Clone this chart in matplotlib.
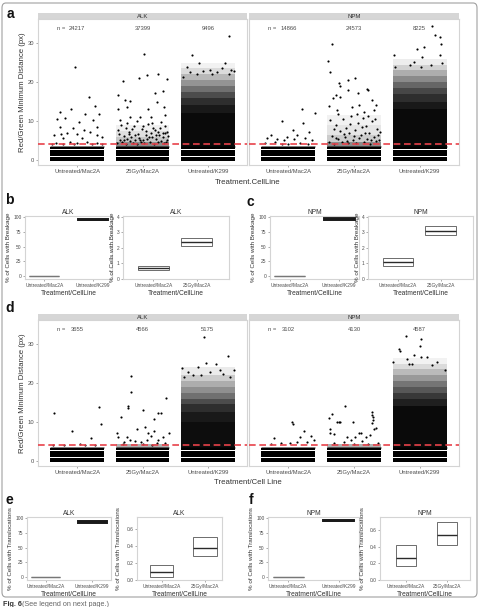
import matplotlib
matplotlib.use('Agg')
import matplotlib.pyplot as plt
from matplotlib.patches import FancyBboxPatch

plt.rcParams['font.family'] = ['Liberation Sans', 'DejaVu Sans']

# ---------------- data ----------------
categories = ['Untreated/Mac2A', '25Gy/Mac2A', 'Untreated/K299']
box_categories_left = ['Untreated/Mac2A', 'Untreated/K299']
box_categories_right = ['Untreated/Mac2A', '25Gy/Mac2A']

n_a_alk = [24217, 37399, 9496]
n_a_npm = [14866, 24573, 8225]
n_d_alk = [3655, 4566, 5175]
n_d_npm = [3102, 4130, 4587]

threshold = 4.0
# solid bands formed by the many jittered points at small discrete distances
core_bands = [(-0.25, 0.66), (0.9, 1.66), (1.9, 2.5), (2.74, 3.3)]
core_top_levels = [3.45, 3.61]

# density of the dense clouds: (from, to, density)
cloud_a_alk = [(3.3, 12, 0.96), (12, 14, 0.9), (14, 16, 0.82), (16, 17.5, 0.7), (17.5, 19, 0.56),
               (19, 20.5, 0.42), (20.5, 22, 0.28), (22, 23.5, 0.14), (23.5, 25, 0.05)]
cloud_a_npm = [(3.3, 13, 0.96), (13, 15, 0.9), (15, 17, 0.82), (17, 18.5, 0.72), (18.5, 20, 0.6),
               (20, 21.5, 0.46), (21.5, 23, 0.32), (23, 24.5, 0.18), (24.5, 26, 0.07)]
cloud_d_alk = [(3.3, 10, 0.95), (10, 12.5, 0.9), (12.5, 14.5, 0.82), (14.5, 16, 0.7), (16, 17.5, 0.56),
               (17.5, 19, 0.44), (19, 20.5, 0.32), (20.5, 22, 0.2), (22, 24, 0.08)]
cloud_d_npm = [(3.3, 14, 0.96), (14, 16, 0.88), (16, 17.5, 0.78), (17.5, 19, 0.66), (19, 20.5, 0.54),
               (20.5, 22, 0.4), (22, 23.5, 0.27), (23.5, 25, 0.14), (25, 26.5, 0.05)]
cloud_a_alk_gy = [(3.3, 4.6, 0.45), (4.6, 6, 0.22), (6, 7.5, 0.12), (7.5, 9, 0.06)]
cloud_a_npm_gy = [(3.3, 4.6, 0.45), (4.6, 6.5, 0.2), (6.5, 9, 0.1), (9, 11.5, 0.05)]
cloud_d_gy = [(3.3, 4.4, 0.3)]

# outlying points: (offset within group, distance)
pts_a_alk_mac = [(-0.04, 23.8), (0.18, 16.1), (-0.09, 13.1), (0.28, 13.9), (-0.26, 12.2), (-0.31, 10.4),
                 (-0.18, 10.7), (0.12, 11.8), (0.34, 11.8), (0.24, 10.3), (0.03, 9.7), (-0.07, 8.1),
                 (-0.27, 8.5), (-0.25, 6.7), (-0.36, 6.4), (-0.16, 7.0), (0.10, 7.7), (0.20, 7.1),
                 (0.30, 8.4), (0.38, 5.8), (0.31, 6.4), (0.0, 6.7), (-0.22, 5.6), (0.07, 5.6),
                 (-0.33, 4.4), (-0.11, 4.7), (0.15, 4.5), (0.30, 4.4), (-0.21, 4.2), (0.0, 4.3),
                 (0.38, 4.2), (-0.38, 4.1), (0.22, 4.1), (-0.05, 4.05)]
pts_a_alk_gy = [(0.03, 27.1), (0.07, 21.8), (-0.05, 21.1), (0.24, 22.1), (0.38, 20.8), (-0.30, 20.3),
                (0.31, 17.7), (-0.38, 16.6), (0.19, 17.1), (-0.27, 15.4), (-0.19, 15.2), (-0.37, 13.1),
                (-0.24, 13.7), (0.22, 14.8), (0.33, 13.7), (0.35, 11.5), (0.09, 13.1), (0.13, 11.1),
                (-0.04, 11.1), (-0.35, 10.3), (-0.19, 11.1),
                (-0.39, 4.3), (-0.35, 5.1), (-0.31, 4.6), (-0.28, 6.2), (-0.26, 4.1), (-0.24, 5.4),
                (-0.21, 7.3), (-0.19, 4.8), (-0.17, 6.0), (-0.15, 4.4), (-0.13, 8.6), (-0.11, 5.2),
                (-0.09, 4.2), (-0.07, 6.7), (-0.05, 5.7), (-0.03, 4.6), (-0.01, 7.9), (0.01, 5.0),
                (0.03, 4.3), (0.05, 6.4), (0.07, 5.5), (0.09, 9.2), (0.11, 4.7), (0.13, 6.9),
                (0.15, 5.9), (0.17, 4.2), (0.19, 7.6), (0.21, 5.3), (0.23, 4.5), (0.25, 6.5),
                (0.27, 8.1), (0.29, 4.9), (0.31, 5.8), (0.33, 4.3), (0.35, 7.0), (0.37, 5.1),
                (0.39, 6.1), (-0.37, 7.7), (-0.33, 8.9), (-0.29, 5.0), (-0.23, 9.6), (-0.16, 7.9),
                (-0.08, 9.9), (0.0, 8.8), (0.06, 7.4), (0.14, 9.5), (0.2, 6.3), (0.28, 9.8),
                (0.34, 8.8), (0.38, 7.3), (-0.36, 6.6), (-0.2, 6.6), (-0.04, 5.2), (0.1, 6.0),
                (0.24, 7.2), (0.32, 6.9), (-0.12, 6.3), (0.16, 8.3), (-0.26, 8.2), (0.36, 4.7)]
pts_a_alk_k299 = [(0.33, 31.9), (-0.24, 26.9), (-0.14, 25.0), (0.26, 25.0), (0.40, 22.9), (-0.32, 23.8),
                  (0.04, 23.1), (0.14, 22.5), (0.32, 22.1), (-0.38, 21.4), (-0.07, 22.8), (0.21, 23.5),
                  (-0.17, 22.0), (0.07, 22.0), (0.36, 23.0), (-0.28, 22.6)]
pts_a_npm_mac = [(0.40, 12.0), (0.20, 13.1), (0.22, 9.4), (-0.10, 10.0), (0.32, 7.1), (0.07, 7.7),
                 (-0.27, 6.3), (-0.33, 5.6), (0.13, 6.4), (-0.02, 6.0), (-0.17, 5.3), (0.26, 5.6),
                 (-0.07, 5.0), (0.36, 5.1), (0.08, 5.3), (-0.36, 4.3), (-0.2, 4.5), (0.0, 4.2),
                 (0.18, 4.4), (0.3, 4.2), (-0.1, 4.1)]
pts_a_npm_gy = [(-0.34, 29.9), (-0.39, 25.5), (-0.37, 22.7), (0.02, 21.0), (-0.09, 20.5), (-0.23, 19.8),
                (-0.21, 19.0), (0.20, 18.3), (0.22, 17.9), (-0.09, 17.9), (-0.27, 16.8), (0.06, 17.1),
                (-0.32, 15.8), (-0.21, 16.1), (0.07, 14.1), (0.34, 14.1), (0.28, 15.4), (-0.38, 13.9),
                (-0.03, 13.5), (0.30, 12.8), (0.15, 12.4), (-0.26, 12.8),
                (-0.38, 4.5), (-0.34, 6.2), (-0.30, 4.2), (-0.27, 9.1), (-0.25, 5.3), (-0.22, 7.4),
                (-0.19, 4.7), (-0.17, 10.6), (-0.14, 5.9), (-0.12, 8.2), (-0.09, 4.4), (-0.07, 6.8),
                (-0.04, 11.3), (-0.02, 5.1), (0.01, 7.7), (0.03, 4.3), (0.06, 9.6), (0.08, 5.6),
                (0.10, 6.4), (0.13, 10.9), (0.15, 4.6), (0.18, 8.7), (0.20, 5.4), (0.23, 7.0),
                (0.25, 4.2), (0.28, 9.9), (0.30, 6.0), (0.33, 4.8), (0.35, 8.0), (0.38, 5.2),
                (-0.36, 10.2), (-0.31, 8.0), (-0.24, 11.8), (-0.16, 6.6), (-0.06, 9.3), (0.04, 11.9),
                (0.12, 8.5), (0.22, 11.2), (0.32, 10.4), (0.39, 7.2), (-0.28, 5.6), (0.0, 6.1),
                (0.17, 6.9), (0.36, 6.3), (-0.11, 4.9), (0.26, 5.0)]
pts_a_npm_k299 = [(0.19, 34.4), (0.23, 32.1), (0.31, 31.5), (-0.04, 28.4), (0.07, 29.0), (0.32, 29.7),
                  (0.31, 26.9), (0.04, 26.5), (-0.39, 26.9), (0.34, 24.8), (-0.37, 23.9), (-0.09, 25.2),
                  (-0.14, 24.4), (0.17, 24.4), (0.02, 23.9)]
pts_d_alk_mac = [(-0.36, 12.2), (-0.08, 7.8), (0.33, 13.9), (0.36, 9.5), (0.21, 5.8),
                 (-0.37, 4.2), (-0.2, 4.1), (0.05, 4.3), (0.28, 4.1), (0.12, 4.0)]
pts_d_alk_gy = [(-0.18, 21.9), (-0.18, 17.7), (-0.22, 14.2), (-0.22, 13.5), (-0.33, 11.2), (0.0, 13.1),
                (0.18, 10.8), (0.24, 12.2), (0.29, 12.2), (0.36, 16.2), (-0.39, 7.3), (-0.38, 6.1),
                (-0.08, 8.2), (0.04, 8.6), (0.17, 7.8), (0.08, 7.1), (0.13, 6.4), (0.24, 5.5),
                (-0.19, 5.3), (-0.12, 5.1), (-0.03, 4.9), (-0.28, 4.9), (0.07, 5.3), (0.22, 4.6),
                (0.31, 6.2), (0.40, 7.1), (-0.23, 6.1), (-0.3, 4.3), (0.0, 4.4), (0.15, 4.2), (0.35, 4.5)]
pts_d_alk_k299 = [(-0.06, 31.8), (0.31, 26.9), (-0.15, 24.1), (-0.03, 25.1), (0.12, 24.9), (-0.39, 23.9),
                  (0.40, 23.4), (-0.30, 22.8), (-0.22, 22.0), (0.03, 22.8), (0.19, 23.3), (0.24, 22.4),
                  (0.34, 21.6), (-0.36, 21.6), (-0.1, 22.0)]
pts_d_npm_mac = [(0.06, 10.0), (0.07, 9.4), (0.24, 7.7), (0.34, 6.4), (0.17, 6.2), (-0.22, 6.0),
                 (-0.12, 4.5), (-0.27, 4.3), (0.02, 4.7), (0.13, 4.8), (0.28, 4.9), (0.39, 5.5)]
pts_d_npm_gy = [(-0.13, 14.1), (-0.34, 12.1), (-0.38, 11.1), (-0.21, 10.1), (-0.26, 10.0), (-0.23, 10.0),
                (-0.02, 10.0), (0.28, 12.5), (0.28, 11.8), (0.29, 11.2), (0.29, 10.5), (0.27, 9.8),
                (0.30, 8.1), (0.33, 8.4), (-0.37, 8.1), (-0.37, 7.3), (-0.31, 6.8), (0.07, 7.2),
                (0.11, 7.2), (-0.10, 6.2), (0.02, 6.1), (0.18, 6.2), (0.25, 6.6), (-0.3, 4.6),
                (-0.15, 4.9), (0.0, 4.4), (0.12, 5.0), (0.36, 4.5), (-0.05, 5.4), (0.22, 4.3)]
pts_d_npm_k299 = [(-0.21, 32.2), (0.02, 31.4), (0.01, 29.5), (-0.32, 28.8), (-0.30, 28.2), (-0.09, 27.1),
                  (0.02, 26.7), (0.11, 26.7), (-0.40, 25.3), (0.27, 25.4), (-0.20, 26.3), (-0.16, 25.0),
                  (-0.11, 25.0), (0.19, 24.6), (0.38, 23.4)]

# percentage summaries: lower, middle, upper
brk_alk_left = [(0.55, 0.7, 0.85), (94.5, 95.5, 97.0)]
brk_alk_right = [(0.55, 0.7, 0.85), (2.1, 2.4, 2.65)]
brk_npm_left = [(0.85, 1.05, 1.35), (95.5, 96.5, 97.5)]
brk_npm_right = [(0.85, 1.05, 1.35), (2.8, 3.05, 3.4)]
trl_alk_left = [(0.04, 0.09, 0.18), (92.0, 93.0, 94.0)]
trl_alk_right = [(0.04, 0.09, 0.18), (0.28, 0.38, 0.51)]
trl_npm_left = [(0.17, 0.27, 0.42), (94.0, 95.0, 96.0)]
trl_npm_right = [(0.17, 0.27, 0.42), (0.42, 0.54, 0.70)]

# ---------------- drawing ----------------
W, H = 480, 607
fig = plt.figure(figsize=(W / 100, H / 100), dpi=100)

TXT = '#4D4D4D'
FRAME = '#D4D4D4'


def ax_px(x0, y0, x1, y1):
    return fig.add_axes([x0 / W, 1 - y1 / H, (x1 - x0) / W, (y1 - y0) / H])


def style(ax, tick_size):
    for s in ax.spines.values():
        s.set_color(FRAME)
        s.set_linewidth(0.8)
    ax.tick_params(axis='both', length=1.6, width=0.5, color='#888888',
                   labelsize=tick_size, labelcolor=TXT, pad=1)


def draw_cloud(ax, x, bands, w):
    for (y0, y1, d) in bands:
        ax.bar(x, y1 - y0, bottom=y0, width=2 * w, color='black', alpha=d, linewidth=0, zorder=2)


def scatter_facet(ax, n_vals, cloud_k299, cloud_gy, groups, show_y):
    style(ax, 4.2)
    w = 0.41
    for i, grp in enumerate(groups):
        x = i + 1
        for (y0, y1) in core_bands:
            ax.bar(x, y1 - y0, bottom=y0, width=2 * w, color='black', linewidth=0, zorder=2)
        ax.hlines(core_top_levels, x - w, x + w, colors='black', lw=0.6, alpha=0.6, zorder=2)
        xs = [x + p[0] for p in grp]
        ys = [p[1] for p in grp]
        ax.scatter(xs, ys, s=2.4, c='black', linewidths=0, zorder=3)
    draw_cloud(ax, 2, cloud_gy, w)
    draw_cloud(ax, 3, cloud_k299, w)
    ax.axhline(threshold, color='#E8424A', lw=1.2, dashes=(4, 2.2), zorder=4)
    ax.set_xlim(0.4, 3.6)
    ax.set_ylim(-1.3, 36.2)
    ax.set_xticks([1, 2, 3])
    ax.set_xticklabels(categories)
    ax.set_yticks([0, 10, 20, 30])
    if not show_y:
        ax.tick_params(axis='y', left=False, labelleft=False)
    ax.text(0.69, 33.8, 'n =', fontsize=4.2, color=TXT, ha='left', va='center')
    for i, n in enumerate(n_vals):
        ax.text(i + 1, 33.8, str(n), fontsize=4.2, color=TXT, ha='center', va='center')


def strip(x0, x1, y0, y1, label):
    s = ax_px(x0, y0, x1, y1)
    s.set_xticks([])
    s.set_yticks([])
    s.set_facecolor('#D6D6D6')
    for sp in s.spines.values():
        sp.set_visible(False)
    s.text(0.5, 0.45, label, transform=s.transAxes, ha='center', va='center', fontsize=4.3, color='#333333')


def scatter_panel(top, n_alk, n_npm, clouds_alk, clouds_npm, gy_alk, gy_npm, groups_alk, groups_npm, xtitle):
    strip(38, 247, top - 6.5, top, 'ALK')
    strip(249, 459, top - 6.5, top, 'NPM')
    a1 = ax_px(38, top, 247, top + 146)
    a2 = ax_px(249, top, 459, top + 146)
    scatter_facet(a1, n_alk, clouds_alk, gy_alk, groups_alk, True)
    scatter_facet(a2, n_npm, clouds_npm, gy_npm, groups_npm, False)
    fig.text(248 / W, 1 - (top + 163) / H, xtitle, ha='center', va='center', fontsize=5.6, color='#333333')
    fig.text(23 / W, 1 - (top + 73) / H, 'Red/Green Minimum Distance (px)', rotation=90,
             ha='center', va='center', fontsize=5.6, color='#333333')


scatter_panel(19, n_a_alk, n_a_npm, cloud_a_alk, cloud_a_npm, cloud_a_alk_gy, cloud_a_npm_gy,
              [pts_a_alk_mac, pts_a_alk_gy, pts_a_alk_k299],
              [pts_a_npm_mac, pts_a_npm_gy, pts_a_npm_k299], 'Treatment.CellLine')
scatter_panel(320, n_d_alk, n_d_npm, cloud_d_alk, cloud_d_npm, cloud_d_gy, cloud_d_gy,
              [pts_d_alk_mac, pts_d_alk_gy, pts_d_alk_k299],
              [pts_d_npm_mac, pts_d_npm_gy, pts_d_npm_k299], 'Treatment/Cell Line')


def box_panel(rect, title, ylabel, boxes, cats, ylim, yticks, yticklabels, xlim, width, left_side,
              ylab_x=None):
    x0, y0, x1, y1 = rect
    ax = ax_px(x0, y0, x1, y1)
    style(ax, 3.5)
    for i, (lo, mid, hi) in enumerate(boxes):
        x = i + 1
        if left_side:
            col = '#777777' if i == 0 else '#1A1A1A'
            lw = 0.9 if i == 0 else 1.4
        else:
            col = '#555555'
            lw = 0.6
        ax.bar(x, hi - lo, bottom=lo, width=width, fill=False, edgecolor=col, linewidth=lw)
        ax.hlines(mid, x - width / 2, x + width / 2, colors='#2A2A2A' if not left_side else col,
                  lw=1.0 if not left_side else lw)
    ax.set_xlim(*xlim)
    ax.set_ylim(*ylim)
    ax.set_xticks([1, 2])
    ax.set_xticklabels(cats)
    ax.set_yticks(yticks)
    ax.set_yticklabels(yticklabels)
    ax.set_title(title, fontsize=4.8, color='#333333', pad=1.5)
    ax.set_xlabel('Treatment/CellLine', fontsize=4.8, color='#333333', labelpad=1.5)
    ax.set_ylabel(ylabel, fontsize=4.5, color='#333333', labelpad=1.2)
    if ylab_x is not None:
        ax.yaxis.set_label_coords((ylab_x - x0) / (x1 - x0), 0.5)
    return ax


pct_ticks = [0, 25, 50, 75, 100]
pct_lbls = ['0', '25', '50', '75', '100']
brk_lab = '% of Cells with Breakage'
trl_lab = '% of Cells with Translocations'

box_panel((25, 216, 112, 279), 'ALK', brk_lab, brk_alk_left, box_categories_left,
          (-4.5, 101.5), pct_ticks, pct_lbls, (0.6, 2.4), 0.62, True)
box_panel((123, 216, 229, 279), 'ALK', brk_lab, brk_alk_right, box_categories_right,
          (-0.02, 4.05), [0, 1, 2, 3, 4], ['0', '1', '2', '3', '4'], (0.3, 2.75), 0.72, False)
box_panel((270, 216, 359, 279), 'NPM', brk_lab, brk_npm_left, box_categories_left,
          (-4.5, 101.5), pct_ticks, pct_lbls, (0.6, 2.4), 0.62, True)
box_panel((368, 216, 473, 279), 'NPM', brk_lab, brk_npm_right, box_categories_right,
          (-0.02, 4.05), [0, 1, 2, 3, 4], ['0', '1', '2', '3', '4'], (0.3, 2.75), 0.72, False)

box_panel((27, 517, 111, 580), 'ALK', trl_lab, trl_alk_left, box_categories_left,
          (-4.5, 101.5), pct_ticks, pct_lbls, (0.6, 2.4), 0.62, True)
box_panel((137, 517, 222, 580), 'ALK', trl_lab, trl_alk_right, box_categories_right,
          (0, 0.746), [0, 0.2, 0.4, 0.6], ['0.0', '0.2', '0.4', '0.6'], (0.43, 2.4), 0.55, False,
          ylab_x=121)
box_panel((268, 517, 359, 580), 'NPM', trl_lab, trl_npm_left, box_categories_left,
          (-4.5, 101.5), pct_ticks, pct_lbls, (0.6, 2.4), 0.62, True)
box_panel((380, 517, 470, 580), 'NPM', trl_lab, trl_npm_right, box_categories_right,
          (0, 0.756), [0, 0.2, 0.4, 0.6], ['0.0', '0.2', '0.4', '0.6'], (0.36, 2.57), 0.5, False,
          ylab_x=365)

# panel letters
for lab, x, y in [('a', 10, 14), ('b', 9, 200), ('c', 250, 202), ('d', 10, 308), ('e', 9, 500), ('f', 251, 500)]:
    fig.text(x / W, 1 - y / H, lab, fontsize=10, fontweight='bold', ha='center', va='center', color='#111111')

# frame
frame = FancyBboxPatch((2 / W, 1 - 597 / H), 475 / W, 594 / H, boxstyle='round,pad=0,rounding_size=0.008',
                       transform=fig.transFigure, fill=False, edgecolor='#A0A0A0', linewidth=0.8)
fig.patches.append(frame)

fig.text(3 / W, 1 - 604 / H, 'Fig. 6', fontsize=5.2, fontweight='bold', color='#333333', ha='left', va='center')
fig.text(22 / W, 1 - 604 / H, '(See legend on next page.)', fontsize=5.2, color='#666666', ha='left', va='center')

fig.savefig('out.png', dpi=100)
